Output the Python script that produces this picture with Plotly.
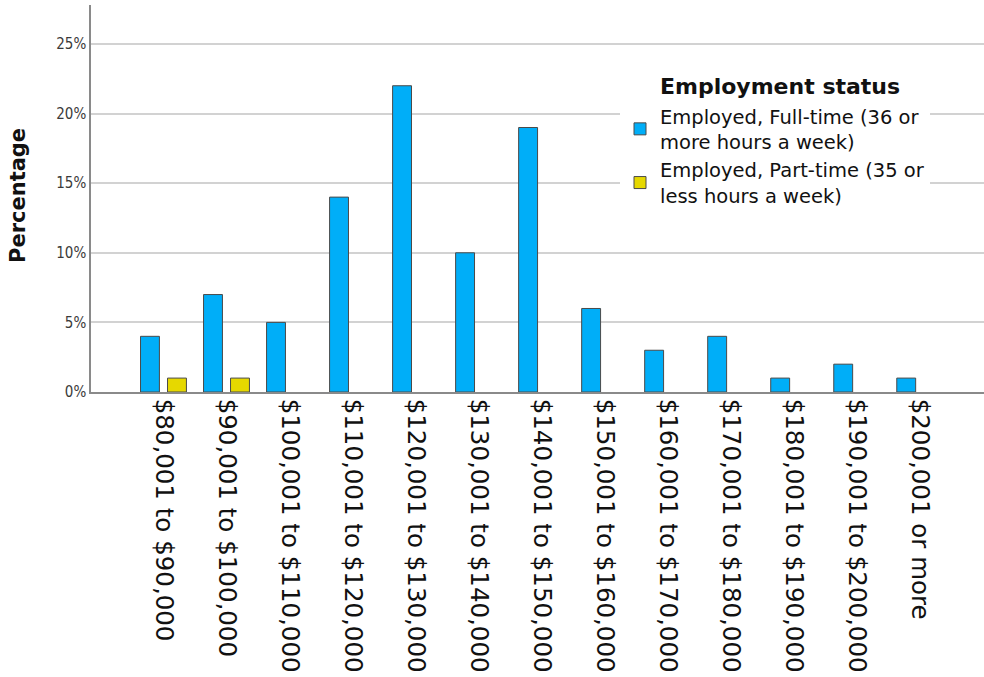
import plotly.graph_objects as go

categories = ["$80,001 to $90,000", "$90,001 to $100,000", "$100,001 to $110,000",
              "$110,001 to $120,000", "$120,001 to $130,000", "$130,001 to $140,000",
              "$140,001 to $150,000", "$150,001 to $160,000", "$160,001 to $170,000",
              "$170,001 to $180,000", "$180,001 to $190,000", "$190,001 to $200,000",
              "$200,001 or more"]
full_time = [4, 7, 5, 14, 22, 10, 19, 6, 3, 4, 1, 2, 1]
part_time = [1, 1, None, None, None, None, None, None, None, None, None, None, None]
series_names = ["Employed, Full-time (36 or<br>more hours a week)",
                "Employed, Part-time (35 or<br>less hours a week)"]
y_ticks = [0, 5, 10, 15, 20, 25]
y_tick_labels = ["0%", "5%", "10%", "15%", "20%", "25%"]

W, H = 984, 677
L, R, T, B = 91, 0, 5, 285
pw = W - L - R
ph = H - T - B

def px_x(x):
    return (x - L) / pw

def px_y(y):
    return (H - B - y) / ph

fig = go.Figure()
fig.add_trace(go.Bar(x=categories, y=full_time, name=series_names[0],
                     marker=dict(color="#00AEF8", line=dict(color="#4a4a4a", width=1))))
fig.add_trace(go.Bar(x=categories, y=part_time, name=series_names[1],
                     marker=dict(color="#E6D800", line=dict(color="#4a4a4a", width=1))))

fig.update_layout(
    width=W, height=H,
    margin=dict(l=L, r=R, t=T, b=B, autoexpand=False),
    paper_bgcolor="white", plot_bgcolor="white",
    barmode="group", bargap=0.143, bargroupgap=0.3,
    font=dict(family="DejaVu Sans", color="#111"),
    showlegend=True,
    legend=dict(x=px_x(620), y=px_y(97), xanchor="left", yanchor="top",
                bgcolor="white", borderwidth=0,
                font=dict(family="DejaVu Sans", size=19.5, color="#111"),
                valign="middle", tracegroupgap=0),
    annotations=[
        dict(text="<b>Employment status</b>", x=px_x(658), y=px_y(86),
             xref="paper", yref="paper", xanchor="left", yanchor="middle",
             showarrow=False, font=dict(family="DejaVu Sans", size=22, color="#111")),
        dict(text="<b>Percentage</b>", x=px_x(18), y=px_y(196), textangle=-90,
             xref="paper", yref="paper", xanchor="center", yanchor="middle",
             showarrow=False, font=dict(family="DejaVu Sans", size=21, color="#111")),
    ],
)
fig.update_xaxes(type="category", range=[-1.15, 13.02], tickangle=90,
                 tickfont=dict(family="DejaVu Sans", size=24.5, color="#111"),
                 showline=True, linecolor="#8a8a8a", linewidth=1.5,
                 showgrid=False, ticks="", automargin=False)
fig.update_yaxes(range=[0, 27.8], tickvals=y_ticks, ticktext=y_tick_labels,
                 tickfont=dict(family="DejaVu Sans Condensed, DejaVu Sans", size=15, color="#3a3a3a"),
                 showline=True, linecolor="#8a8a8a", linewidth=1.5,
                 showgrid=True, gridcolor="#d2d2d2", gridwidth=2,
                 zeroline=False, ticks="", automargin=False)

fig.write_html("out.html", config={"displayModeBar": False},
               post_script="document.body.style.margin='0px';document.body.style.overflow='hidden';")
